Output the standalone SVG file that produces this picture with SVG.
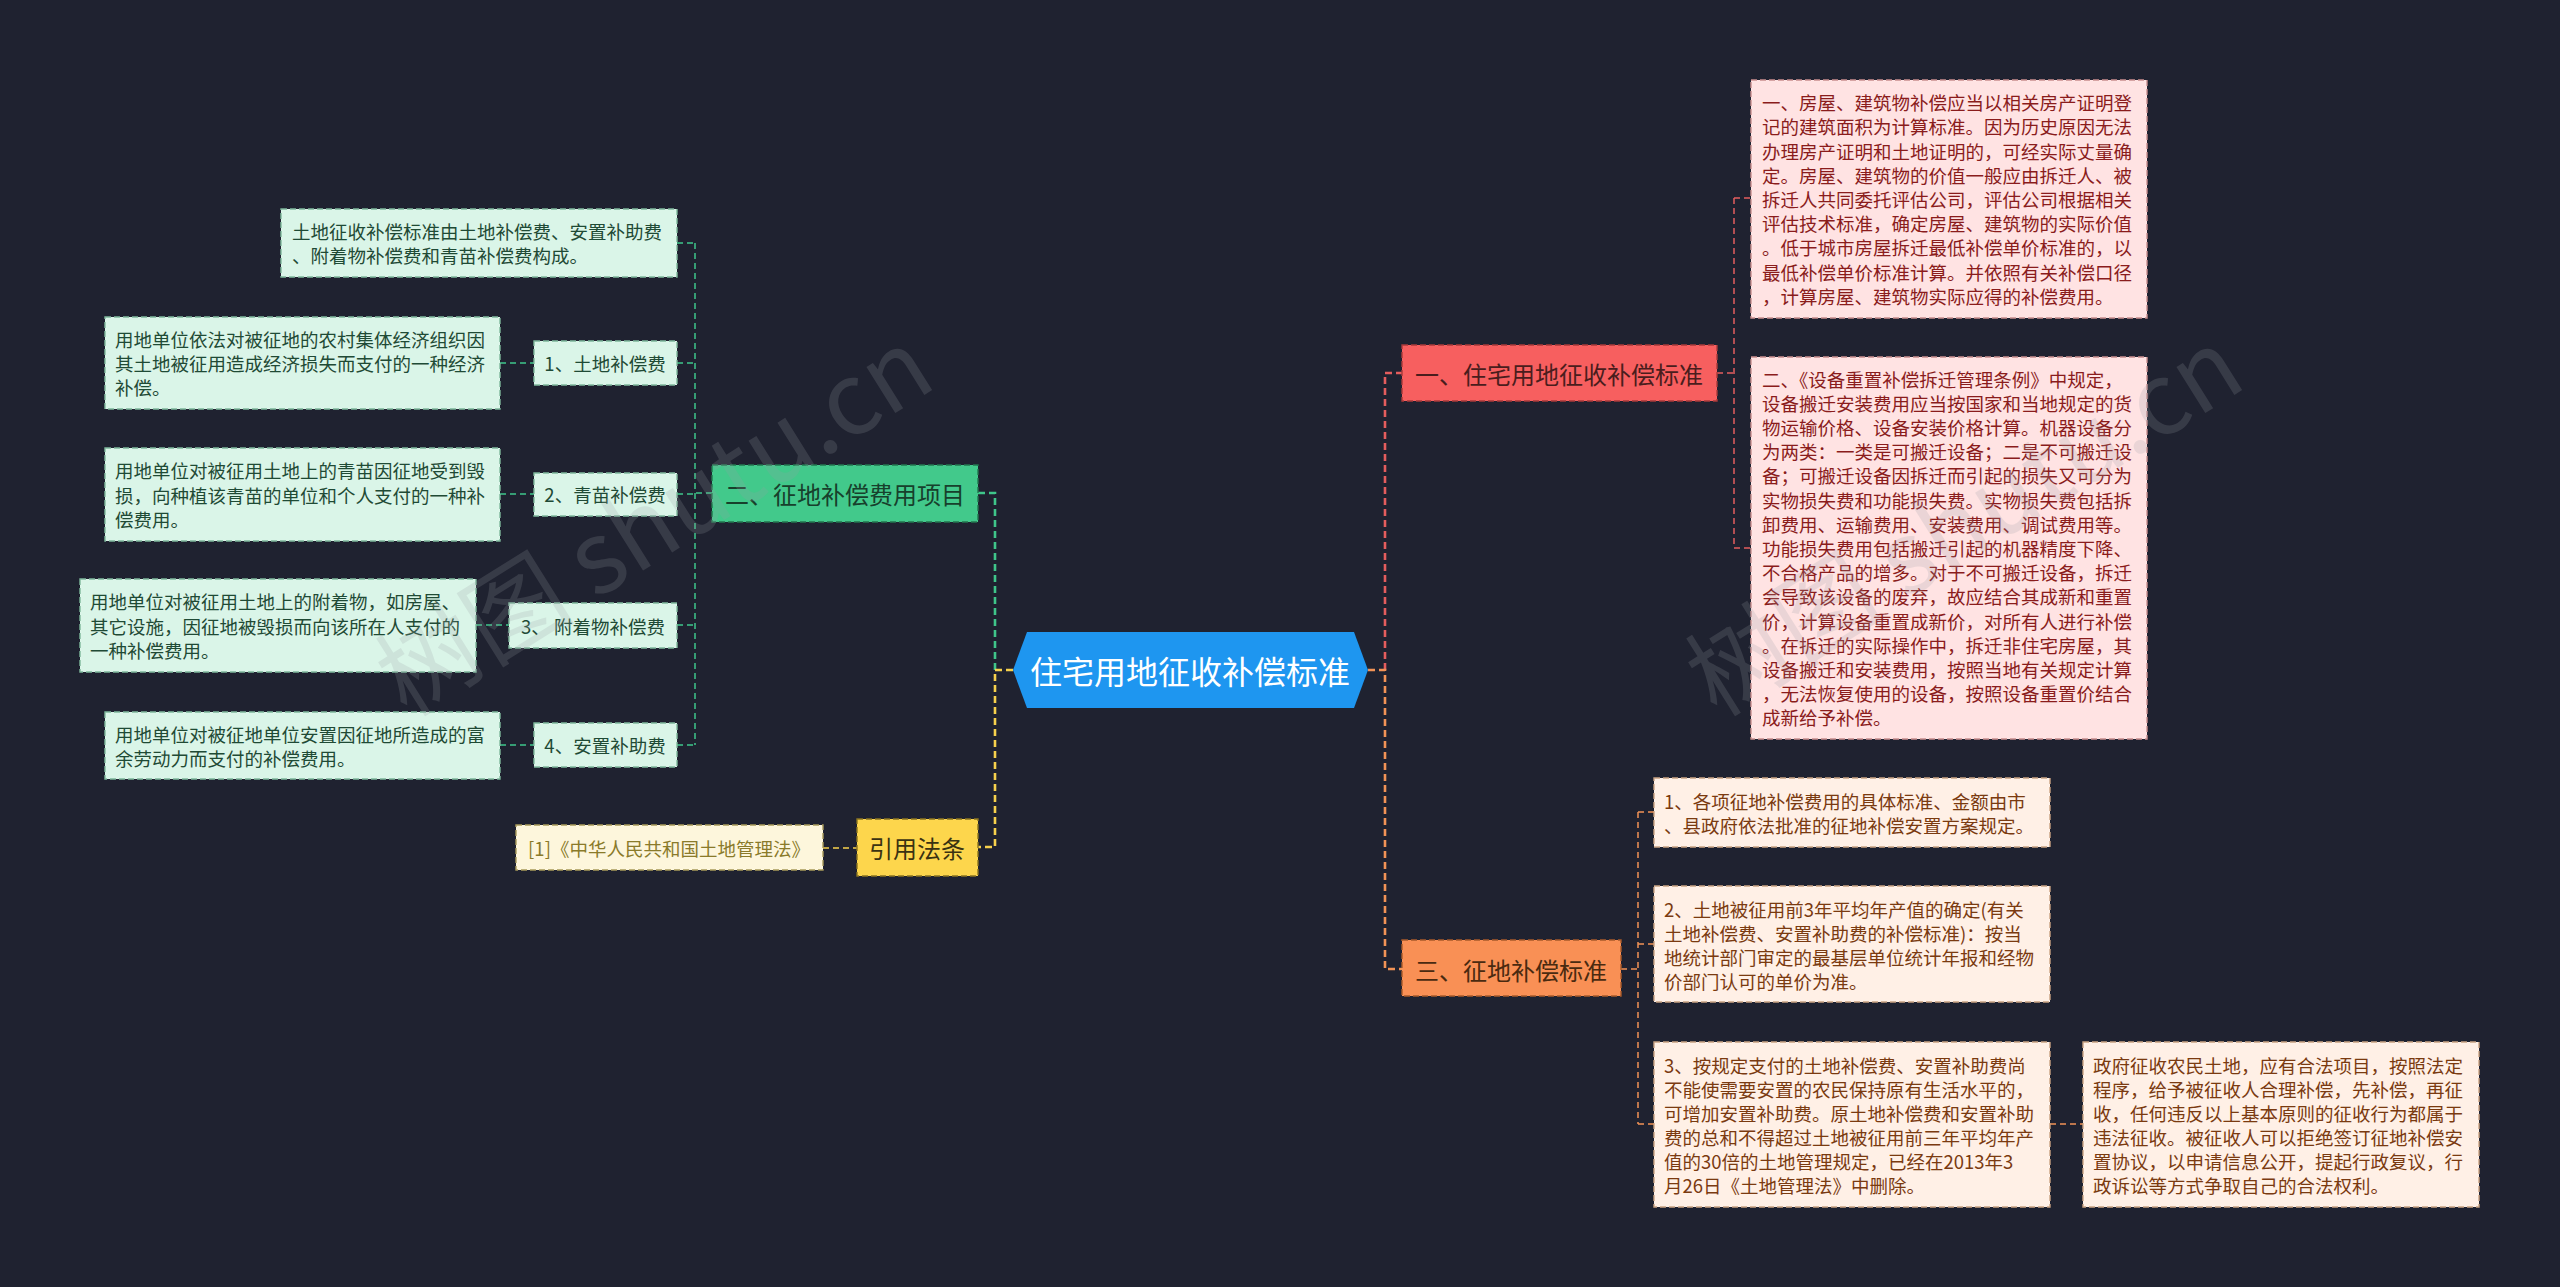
<svg xmlns="http://www.w3.org/2000/svg" width="2560" height="1287" viewBox="0 0 2560 1287">
<style>
text{font-family:"Microsoft YaHei","Noto Sans CJK SC","Noto Sans",sans-serif;dominant-baseline:central}
.lt{font-size:18.5px}
.bt{font-size:24px;text-anchor:middle}
.ct{font-size:32px;text-anchor:middle;fill:#ffffff}
.c1{fill:none;stroke-width:2.6;stroke-dasharray:7 4}
.c2{fill:none;stroke-width:1.5;stroke-dasharray:6 4}
.nb{stroke-width:1.4;stroke-dasharray:6 3}
.gl{fill:#daf5e8;stroke:#7fb89c}
.gt{fill:#1f4a35}
.pl{fill:#ffe3e3;stroke:#c98f8f}
.pt{fill:#8a1c1c}
.ol{fill:#fff0e6;stroke:#c9a282}
.ot{fill:#7a3a10}
.wm{font-size:100px;fill:#9a9ea4;opacity:0.2}
</style>
<rect x="0" y="0" width="2560" height="1287" fill="#1f2230"/>

<g id="connectors">
<path class="c1" stroke="#e45d5d" d="M1385,670 V373 H1402"/>
<path class="c1" stroke="#f29356" d="M1368,670 H1385 V969 H1402"/>
<path class="c1" stroke="#3fc68a" d="M995,670 V493 H978"/>
<path class="c1" stroke="#f6d14c" d="M1013,670 H995 V847 H978"/>
<path class="c2" stroke="#e45d5d" d="M1717,373 H1734 M1734,198 V548 M1734,198 H1751 M1734,548 H1751"/>
<path class="c2" stroke="#f29356" d="M1621,969 H1638 M1638,812 V1124 M1638,812 H1654 M1638,944 H1654 M1638,1124 H1654 M2050,1124 H2083"/>
<path class="c2" stroke="#3fc68a" d="M712,493 H695 M695,243 V745 M677,243 H695 M677,363 H695 M677,494 H695 M677,625 H695 M677,745 H695 M500,363 H534 M500,494 H534 M476,625 H509 M500,745 H534"/>
<path class="c2" stroke="#f6d14c" d="M823,848 H857"/>
</g>

<g id="center">
<polygon points="1013,670 1027,632 1354,632 1368,670 1354,708 1027,708" fill="#1e96f0"/>
<text class="ct" x="1190" y="670">住宅用地征收补偿标准</text>
</g>

<g id="branch1">
<rect class="nb" x="1402" y="345" width="315" height="56" fill="#f75f5f" stroke="#a83a3a"/>
<text class="bt" x="1559" y="373" fill="#4a1d1d">一、住宅用地征收补偿标准</text>
</g>
<g id="branch3">
<rect class="nb" x="1402" y="940" width="219" height="56" fill="#f99055" stroke="#a85a2a"/>
<text class="bt" x="1511" y="969" fill="#4a2a10">三、征地补偿标准</text>
</g>
<g id="branch2">
<rect class="nb" x="712" y="465" width="266" height="57" fill="#42c98b" stroke="#23764f"/>
<text class="bt" x="845" y="493" fill="#17402c">二、征地补偿费用项目</text>
</g>
<g id="branch4">
<rect class="nb" x="857" y="819" width="121" height="57" fill="#fdd64c" stroke="#8a7420"/>
<text class="bt" x="917" y="847" fill="#3a3212">引用法条</text>
</g>

<g id="g0">
<rect class="nb gl" x="281" y="209" width="396" height="68"/>
<text class="lt gt" x="292"><tspan x="292" y="231">土地征收补偿标准由土地补偿费、安置补助费</tspan><tspan x="292" y="255">、附着物补偿费和青苗补偿费构成。</tspan></text>
</g>
<g id="g1">
<rect class="nb gl" x="534" y="341" width="143" height="44"/>
<text class="lt gt" x="605" y="363" text-anchor="middle">1、土地补偿费</text>
</g>
<g id="g1a">
<rect class="nb gl" x="105" y="317" width="395" height="92"/>
<text class="lt gt"><tspan x="115" y="339">用地单位依法对被征地的农村集体经济组织因</tspan><tspan x="115" y="363">其土地被征用造成经济损失而支付的一种经济</tspan><tspan x="115" y="387">补偿。</tspan></text>
</g>
<g id="g2">
<rect class="nb gl" x="534" y="473" width="143" height="43"/>
<text class="lt gt" x="605" y="494" text-anchor="middle">2、青苗补偿费</text>
</g>
<g id="g2a">
<rect class="nb gl" x="105" y="448" width="395" height="93"/>
<text class="lt gt"><tspan x="115" y="470">用地单位对被征用土地上的青苗因征地受到毁</tspan><tspan x="115" y="494.5">损，向种植该青苗的单位和个人支付的一种补</tspan><tspan x="115" y="519">偿费用。</tspan></text>
</g>
<g id="g3">
<rect class="nb gl" x="509" y="603" width="168" height="45"/>
<text class="lt gt" x="593" y="625.5" text-anchor="middle" xml:space="preserve">3、 附着物补偿费</text>
</g>
<g id="g3a">
<rect class="nb gl" x="80" y="579" width="396" height="93"/>
<text class="lt gt"><tspan x="90" y="601">用地单位对被征用土地上的附着物，如房屋、</tspan><tspan x="90" y="625.5">其它设施，因征地被毁损而向该所在人支付的</tspan><tspan x="90" y="650">一种补偿费用。</tspan></text>
</g>
<g id="g4">
<rect class="nb gl" x="534" y="723" width="143" height="44"/>
<text class="lt gt" x="605" y="745" text-anchor="middle">4、安置补助费</text>
</g>
<g id="g4a">
<rect class="nb gl" x="105" y="712" width="395" height="67"/>
<text class="lt gt"><tspan x="115" y="733.5">用地单位对被征地单位安置因征地所造成的富</tspan><tspan x="115" y="757.5">余劳动力而支付的补偿费用。</tspan></text>
</g>
<g id="cite">
<rect class="nb" x="516" y="825" width="307" height="45" fill="#fdf6dc" stroke="#a89a5a"/>
<text class="lt" x="669" y="848" text-anchor="middle" fill="#8a7a2a">[1]《中华人民共和国土地管理法》</text>
</g>

<g id="p1">
<rect class="nb pl" x="1751" y="80" width="396" height="238"/>
<text class="lt pt"><tspan x="1762" y="102">一、房屋、建筑物补偿应当以相关房产证明登</tspan><tspan x="1762" y="126.4">记的建筑面积为计算标准。因为历史原因无法</tspan><tspan x="1762" y="150.6">办理房产证明和土地证明的，可经实际丈量确</tspan><tspan x="1762" y="174.8">定。房屋、建筑物的价值一般应由拆迁人、被</tspan><tspan x="1762" y="199">拆迁人共同委托评估公司，评估公司根据相关</tspan><tspan x="1762" y="223.2">评估技术标准，确定房屋、建筑物的实际价值</tspan><tspan x="1762" y="247.4">。低于城市房屋拆迁最低补偿单价标准的，以</tspan><tspan x="1762" y="271.6">最低补偿单价标准计算。并依照有关补偿口径</tspan><tspan x="1762" y="295.8">，计算房屋、建筑物实际应得的补偿费用。</tspan></text>
</g>
<g id="p2">
<rect class="nb pl" x="1751" y="357" width="396" height="382"/>
<text class="lt pt"><tspan x="1762" y="378.6">二、《设备重置补偿拆迁管理条例》中规定，</tspan><tspan x="1762" y="402.8">设备搬迁安装费用应当按国家和当地规定的货</tspan><tspan x="1762" y="427">物运输价格、设备安装价格计算。机器设备分</tspan><tspan x="1762" y="451.2">为两类：一类是可搬迁设备；二是不可搬迁设</tspan><tspan x="1762" y="475.4">备；可搬迁设备因拆迁而引起的损失又可分为</tspan><tspan x="1762" y="499.6">实物损失费和功能损失费。实物损失费包括拆</tspan><tspan x="1762" y="523.8">卸费用、运输费用、安装费用、调试费用等。</tspan><tspan x="1762" y="548">功能损失费用包括搬迁引起的机器精度下降、</tspan><tspan x="1762" y="572.2">不合格产品的增多。对于不可搬迁设备，拆迁</tspan><tspan x="1762" y="596.4">会导致该设备的废弃，故应结合其成新和重置</tspan><tspan x="1762" y="620.6">价，计算设备重置成新价，对所有人进行补偿</tspan><tspan x="1762" y="644.8">。在拆迁的实际操作中，拆迁非住宅房屋，其</tspan><tspan x="1762" y="669">设备搬迁和安装费用，按照当地有关规定计算</tspan><tspan x="1762" y="693.2">，无法恢复使用的设备，按照设备重置价结合</tspan><tspan x="1762" y="717.4">成新给予补偿。</tspan></text>
</g>
<g id="o1">
<rect class="nb ol" x="1654" y="778" width="396" height="69"/>
<text class="lt ot"><tspan x="1664" y="801">1、各项征地补偿费用的具体标准、金额由市</tspan><tspan x="1664" y="825">、县政府依法批准的征地补偿安置方案规定。</tspan></text>
</g>
<g id="o2">
<rect class="nb ol" x="1654" y="886" width="396" height="116"/>
<text class="lt ot"><tspan x="1664" y="908.5">2、土地被征用前3年平均年产值的确定(有关</tspan><tspan x="1664" y="932.5">土地补偿费、安置补助费的补偿标准)：按当</tspan><tspan x="1664" y="956.5">地统计部门审定的最基层单位统计年报和经物</tspan><tspan x="1664" y="980.5">价部门认可的单价为准。</tspan></text>
</g>
<g id="o3">
<rect class="nb ol" x="1654" y="1042" width="396" height="165"/>
<text class="lt ot"><tspan x="1664" y="1065">3、按规定支付的土地补偿费、安置补助费尚</tspan><tspan x="1664" y="1089">不能使需要安置的农民保持原有生活水平的，</tspan><tspan x="1664" y="1113">可增加安置补助费。原土地补偿费和安置补助</tspan><tspan x="1664" y="1137">费的总和不得超过土地被征用前三年平均年产</tspan><tspan x="1664" y="1161">值的30倍的土地管理规定，已经在2013年3</tspan><tspan x="1664" y="1185">月26日《土地管理法》中删除。</tspan></text>
</g>
<g id="o4">
<rect class="nb ol" x="2083" y="1042" width="396" height="165"/>
<text class="lt ot"><tspan x="2093" y="1065">政府征收农民土地，应有合法项目，按照法定</tspan><tspan x="2093" y="1089">程序，给予被征收人合理补偿，先补偿，再征</tspan><tspan x="2093" y="1113">收，任何违反以上基本原则的征收行为都属于</tspan><tspan x="2093" y="1137">违法征收。被征收人可以拒绝签订征地补偿安</tspan><tspan x="2093" y="1161">置协议，以申请信息公开，提起行政复议，行</tspan><tspan x="2093" y="1185">政诉讼等方式争取自己的合法权利。</tspan></text>
</g>

<g id="watermarks">
<text class="wm" x="650" y="515" text-anchor="middle" transform="rotate(-32 650 515)">树图 shutu.cn</text>
<text class="wm" x="1960" y="515" text-anchor="middle" transform="rotate(-32 1960 515)">树图 shutu.cn</text>
</g>
</svg>
